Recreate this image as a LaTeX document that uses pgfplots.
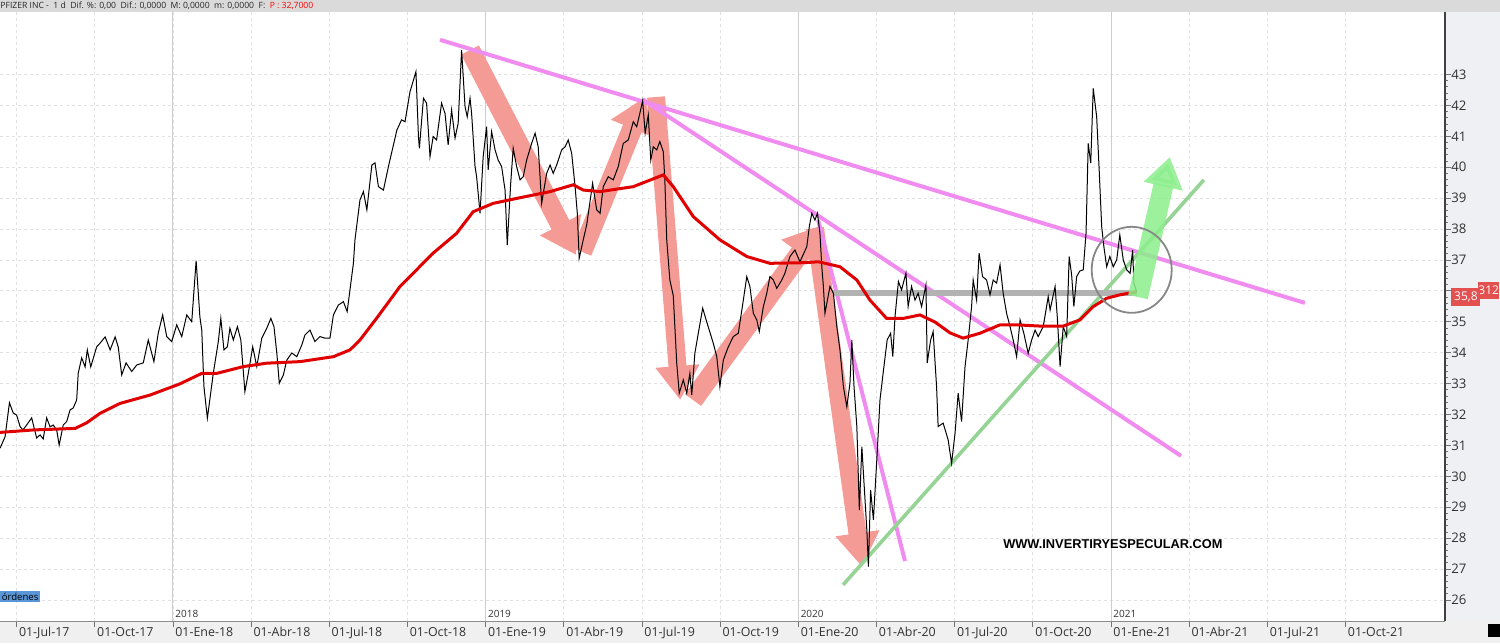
\documentclass[border=0pt]{standalone}
\usepackage{fontspec}
\setmainfont{Open Sans}
\newfontfamily\wmfont{Liberation Sans}
\usepackage{pgfplots}
\pgfplotsset{compat=1.18}
\usetikzlibrary{arrows.meta}

\definecolor{hdrgray}{RGB}{218,218,218}
\definecolor{panelgray}{RGB}{238,240,243}
\definecolor{footgray}{RGB}{240,240,240}
\definecolor{gridgray}{RGB}{225,225,225}
\definecolor{yeargray}{RGB}{205,205,205}
\definecolor{labelgray}{RGB}{50,50,50}
\definecolor{arrowred}{RGB}{245,155,150}
\definecolor{trendpink}{RGB}{240,140,240}
\definecolor{trendgreen}{RGB}{150,212,150}
\definecolor{arrowgreen}{RGB}{140,238,140}
\definecolor{hlgray}{RGB}{178,178,178}
\definecolor{circgray}{RGB}{135,135,135}
\definecolor{mared}{RGB}{225,0,0}
\definecolor{boxred}{RGB}{226,80,80}
\definecolor{ordblue}{RGB}{90,150,215}

\pgfplotstableread{
t v
2017.447 30.91
2017.463 31.28
2017.477 32.38
2017.489 32.05
2017.500 31.98
2017.511 31.61
2017.520 31.50
2017.532 31.66
2017.548 31.89
2017.564 31.24
2017.575 31.34
2017.585 31.21
2017.596 31.89
2017.607 31.60
2017.617 31.66
2017.628 31.50
2017.636 31.01
2017.649 31.66
2017.660 31.77
2017.671 32.15
2017.681 32.21
2017.692 32.47
2017.697 33.34
2017.708 33.83
2017.719 33.54
2017.726 34.09
2017.737 33.54
2017.756 34.19
2017.767 34.31
2017.783 34.51
2017.799 34.09
2017.815 34.51
2017.825 34.18
2017.836 33.28
2017.850 33.67
2017.868 33.39
2017.884 33.60
2017.905 33.67
2017.921 34.41
2017.939 33.71
2017.953 34.64
2017.967 35.22
2017.980 34.52
2017.996 34.36
2018.012 34.90
2018.028 34.52
2018.044 35.22
2018.060 35.00
2018.074 36.98
2018.086 35.16
2018.092 34.73
2018.099 32.90
2018.110 31.88
2018.129 33.34
2018.145 34.36
2018.153 35.11
2018.163 34.09
2018.174 34.19
2018.182 34.79
2018.193 34.41
2018.206 34.84
2018.217 34.41
2018.230 32.74
2018.241 33.34
2018.255 34.19
2018.268 33.55
2018.284 34.47
2018.300 34.79
2018.313 35.11
2018.323 34.84
2018.332 33.99
2018.340 33.01
2018.353 33.28
2018.364 33.76
2018.380 33.99
2018.396 33.87
2018.412 34.25
2018.422 34.57
2018.438 34.73
2018.454 34.36
2018.470 34.52
2018.486 34.47
2018.502 34.47
2018.513 35.22
2018.529 35.54
2018.545 35.65
2018.557 35.33
2018.566 36.03
2018.577 36.89
2018.582 37.65
2018.598 38.94
2018.609 39.21
2018.620 38.62
2018.636 40.07
2018.646 40.14
2018.657 39.37
2018.673 39.26
2018.689 40.02
2018.716 41.20
2018.731 41.53
2018.742 41.47
2018.758 42.44
2018.777 43.09
2018.785 40.99
2018.788 40.61
2018.801 42.23
2018.811 42.07
2018.822 40.34
2018.832 40.99
2018.843 40.88
2018.859 42.07
2018.870 41.74
2018.880 40.72
2018.891 41.85
2018.902 40.94
2018.912 41.42
2018.923 43.79
2018.934 41.96
2018.941 41.63
2018.950 42.23
2018.955 41.74
2018.966 40.02
2018.971 39.69
2018.982 38.51
2018.992 40.34
2019.003 41.31
2019.008 39.91
2019.019 41.15
2019.030 40.56
2019.040 40.23
2019.051 40.02
2019.062 39.26
2019.069 37.48
2019.080 39.48
2019.088 40.61
2019.099 40.02
2019.110 39.59
2019.120 39.69
2019.131 40.23
2019.147 40.77
2019.158 41.10
2019.168 40.66
2019.179 38.83
2019.195 39.80
2019.206 40.07
2019.216 39.80
2019.227 40.07
2019.243 40.56
2019.254 40.66
2019.264 40.88
2019.275 40.45
2019.286 39.37
2019.293 38.51
2019.299 37.05
2019.312 37.65
2019.323 38.13
2019.342 39.48
2019.355 38.62
2019.366 38.51
2019.376 39.37
2019.392 39.69
2019.408 39.59
2019.424 40.02
2019.440 40.77
2019.456 40.88
2019.472 41.47
2019.483 41.31
2019.493 41.74
2019.502 42.15
2019.510 41.10
2019.520 41.69
2019.528 40.23
2019.536 40.66
2019.547 40.56
2019.557 40.83
2019.568 40.50
2019.573 39.59
2019.579 37.65
2019.589 36.35
2019.600 35.84
2019.611 33.66
2019.619 32.69
2019.632 33.12
2019.643 32.69
2019.653 33.33
2019.659 32.63
2019.669 33.98
2019.680 34.63
2019.694 35.44
2019.705 35.06
2019.718 34.63
2019.728 34.30
2019.739 33.87
2019.749 32.90
2019.760 33.76
2019.776 34.19
2019.792 34.52
2019.808 34.63
2019.824 35.70
2019.835 36.46
2019.845 36.14
2019.856 35.27
2019.867 35.06
2019.875 34.68
2019.888 35.49
2019.899 35.92
2019.909 36.46
2019.920 36.35
2019.931 36.08
2019.947 36.35
2019.957 36.57
2019.973 37.11
2019.989 37.32
2020.005 36.94
2020.027 37.43
2020.035 38.08
2020.043 38.51
2020.053 38.29
2020.061 38.51
2020.069 37.86
2020.075 36.78
2020.080 36.14
2020.085 35.27
2020.101 36.14
2020.112 35.92
2020.123 34.84
2020.133 34.09
2020.144 32.90
2020.155 32.25
2020.165 33.01
2020.171 34.41
2020.178 32.90
2020.187 31.61
2020.195 28.91
2020.203 30.96
2020.210 29.77
2020.219 28.26
2020.224 27.08
2020.231 29.56
2020.240 28.59
2020.252 30.75
2020.261 32.47
2020.271 33.33
2020.284 34.41
2020.295 34.63
2020.302 33.87
2020.309 35.16
2020.320 36.30
2020.330 36.03
2020.344 36.57
2020.351 35.49
2020.362 36.14
2020.373 35.70
2020.383 35.92
2020.394 35.49
2020.408 36.19
2020.412 33.66
2020.423 34.41
2020.431 34.68
2020.442 32.90
2020.447 31.61
2020.463 31.72
2020.479 31.18
2020.490 30.42
2020.501 31.39
2020.511 32.69
2020.522 31.77
2020.533 33.55
2020.543 34.41
2020.554 35.49
2020.559 36.35
2020.570 35.70
2020.578 37.22
2020.589 36.46
2020.602 36.35
2020.613 35.87
2020.623 36.35
2020.634 36.25
2020.645 36.84
2020.655 35.92
2020.666 35.27
2020.677 34.84
2020.687 34.41
2020.698 33.87
2020.709 35.06
2020.721 34.63
2020.735 33.98
2020.746 34.41
2020.757 34.73
2020.767 34.52
2020.783 34.84
2020.799 35.81
2020.805 35.38
2020.821 36.14
2020.828 35.16
2020.837 33.55
2020.847 34.84
2020.858 34.52
2020.866 37.11
2020.874 36.51
2020.881 35.49
2020.890 36.46
2020.900 36.64
2020.911 36.68
2020.920 37.86
2020.927 40.77
2020.935 40.13
2020.943 42.55
2020.954 41.63
2020.962 39.91
2020.970 38.08
2020.977 37.43
2020.986 36.78
2020.996 37.11
2021.007 36.78
2021.018 37.00
2021.028 37.81
2021.039 37.00
2021.050 36.68
2021.061 36.57
2021.069 37.32
2021.073 36.25
2021.082 35.96
}\price

\pgfplotstableread{
t v
2017.447 31.42
2017.553 31.50
2017.687 31.55
2017.724 31.73
2017.767 32.04
2017.831 32.36
2017.927 32.63
2018.022 32.99
2018.092 33.33
2018.140 33.33
2018.225 33.55
2018.300 33.66
2018.406 33.71
2018.513 33.87
2018.566 34.09
2018.598 34.41
2018.651 35.11
2018.726 36.14
2018.832 37.22
2018.907 37.86
2018.960 38.56
2019.024 38.83
2019.099 38.99
2019.206 39.21
2019.280 39.43
2019.312 39.26
2019.366 39.21
2019.472 39.37
2019.568 39.75
2019.600 39.37
2019.664 38.40
2019.749 37.65
2019.835 37.11
2019.909 36.89
2020.016 36.91
2020.064 36.94
2020.133 36.78
2020.187 36.35
2020.229 35.70
2020.282 35.11
2020.336 35.11
2020.389 35.22
2020.437 34.99
2020.485 34.64
2020.527 34.47
2020.581 34.63
2020.645 34.90
2020.698 34.90
2020.773 34.86
2020.847 34.86
2020.900 35.06
2020.943 35.49
2020.986 35.76
2021.028 35.87
2021.082 35.97
}\mavg

\begin{document}
\begin{tikzpicture}
% window chrome
\fill[hdrgray] (0,304.5pt) rectangle (750pt,310.5pt);
\fill[panelgray] (722.5pt,0) rectangle (750pt,304.5pt);
\fill[footgray] (0,-11pt) rectangle (750pt,0);
\begin{axis}[
  at={(0,0)}, anchor=south west,
  scale only axis, width=722.5pt, height=304.5pt,
  xmin=2017.4468, xmax=2022.068, ymin=25.32, ymax=45.02,
  axis line style={draw=none},
  xtick={2017.5,2017.75,2018,2018.25,2018.5,2018.75,2019,2019.25,2019.5,2019.75,2020,2020.25,2020.5,2020.75,2021,2021.25,2021.5,2021.75},
  xticklabels={01-Jul-17,01-Oct-17,01-Ene-18,01-Abr-18,01-Jul-18,01-Oct-18,01-Ene-19,01-Abr-19,01-Jul-19,01-Oct-19,01-Ene-20,01-Abr-20,01-Jul-20,01-Oct-20,01-Ene-21,01-Abr-21,01-Jul-21,01-Oct-21},
  ytick={26,27,...,43},
  yticklabels={26,27,28,29,30,31,32,33,34,35,,37,38,39,40,41,42,43},
  minor y tick num=4,
  xtick pos=bottom, ytick pos=right, yticklabel pos=right,
  tick align=outside,
  major tick length=3pt, minor tick length=1.5pt,
  xmajorgrids, ymajorgrids,
  grid style={gridgray, dash pattern=on 1.5pt off 1.5pt, line width=0.4pt},
  tick style={black!55, line width=0.4pt},
  xticklabel style={font=\fontsize{6.2}{7}\selectfont, text=labelgray, anchor=north west, inner sep=0pt, xshift=1pt},
  yticklabel style={font=\fontsize{6.6}{7}\selectfont, text=labelgray, anchor=west, inner sep=0pt},
  /pgf/number format/assume math mode=true,
  extra x ticks={2018,2019,2020,2021},
  extra x tick labels={2018,2019,2020,2021},
  extra x tick style={major grid style={solid, yeargray, line width=0.5pt},
    xticklabel style={anchor=south west, font=\fontsize{5}{6}\selectfont, yshift=4.5pt}},
]
% red arrows
\draw[arrowred, line width=10pt, -{Triangle[width=22pt,length=17pt]}] (axis cs:2018.950,43.79) -- (axis cs:2019.289,37.16);
\draw[arrowred, line width=10pt, -{Triangle[width=22pt,length=17pt]}] (axis cs:2019.308,37.26) -- (axis cs:2019.510,42.27);
\draw[arrowred, line width=9pt, -{Triangle[width=21pt,length=17pt]}] (axis cs:2019.545,42.27) -- (axis cs:2019.622,32.47);
\draw[arrowred, line width=10pt, -{Triangle[width=22pt,length=17pt]}] (axis cs:2019.663,32.47) -- (axis cs:2020.069,38.10);
\draw[arrowred, line width=9pt, -{Triangle[width=21pt,length=17pt]}] (axis cs:2020.053,38.03) -- (axis cs:2020.204,27.07);
% trend lines
\addplot[trendpink, line width=2pt] coordinates {(2018.854,44.12) (2021.620,35.61)};
\addplot[trendpink, line width=2pt] coordinates {(2019.503,42.18) (2021.224,30.66)};
\addplot[trendpink, line width=2pt] coordinates {(2020.063,38.29) (2020.341,27.26)};
\addplot[trendgreen, line width=1.8pt] coordinates {(2020.143,26.49) (2021.297,39.59)};
\addplot[hlgray, line width=2.6pt] coordinates {(2020.111,35.93) (2021.083,35.93)};
% price and moving average
\addplot[black, line width=0.5pt] table[x=t, y=v] {\price};
\addplot[mared, line width=1.5pt] table[x=t, y=v] {\mavg};
% green arrow
\draw[arrowgreen, opacity=0.85, line width=10pt, -{Triangle[width=19pt,length=15pt]}] (axis cs:2021.086,35.80) -- (axis cs:2021.188,40.33);
\draw[circgray, line width=0.9pt] (axis cs:2021.066,36.68) ellipse [x radius=20pt, y radius=21.5pt];
\node[font=\wmfont\bfseries\fontsize{6.4}{7}\selectfont] at (axis cs:2021.006,27.81) {WWW.INVERTIRYESPECULAR.COM};
\end{axis}
% axis lines
\draw[black!45, line width=0.5pt] (0,0) -- (722.5pt,0);
\draw[black!75, line width=0.6pt] (722.5pt,0) -- (722.5pt,304.5pt);
% header text
\node[anchor=west, inner sep=0pt, font=\fontsize{4.3}{5}\selectfont, text=black!85] at (0,307.4pt)
  {PFIZER INC - \ 1 d \ Dif. \%: 0,00 \ Dif.: 0,0000 \ M: 0,0000 \ m: 0,0000 \ F: \ \textcolor{red}{P : 32,7000}};
% orders tab
\node[anchor=south west, fill=ordblue, inner sep=0.7pt, font=\fontsize{4.8}{5.5}\selectfont] at (0,9.5pt) {órdenes};
% last value boxes
\node[anchor=south west, fill=boxred, text=white, inner sep=0pt, minimum width=9.5pt, minimum height=8.5pt, font=\fontsize{6}{7}\selectfont] at (739pt,161pt) {312};
\node[anchor=south west, fill=boxred, text=white, inner sep=0pt, minimum width=14.5pt, minimum height=9pt, font=\fontsize{6}{7}\selectfont] at (725.5pt,157.5pt) {35,8};
\fill[black] (744pt,-1.5pt) rectangle (750pt,-8pt);
\pgfresetboundingbox
\useasboundingbox (0,-11pt) rectangle (750pt,310.5pt);
\end{tikzpicture}
\end{document}
